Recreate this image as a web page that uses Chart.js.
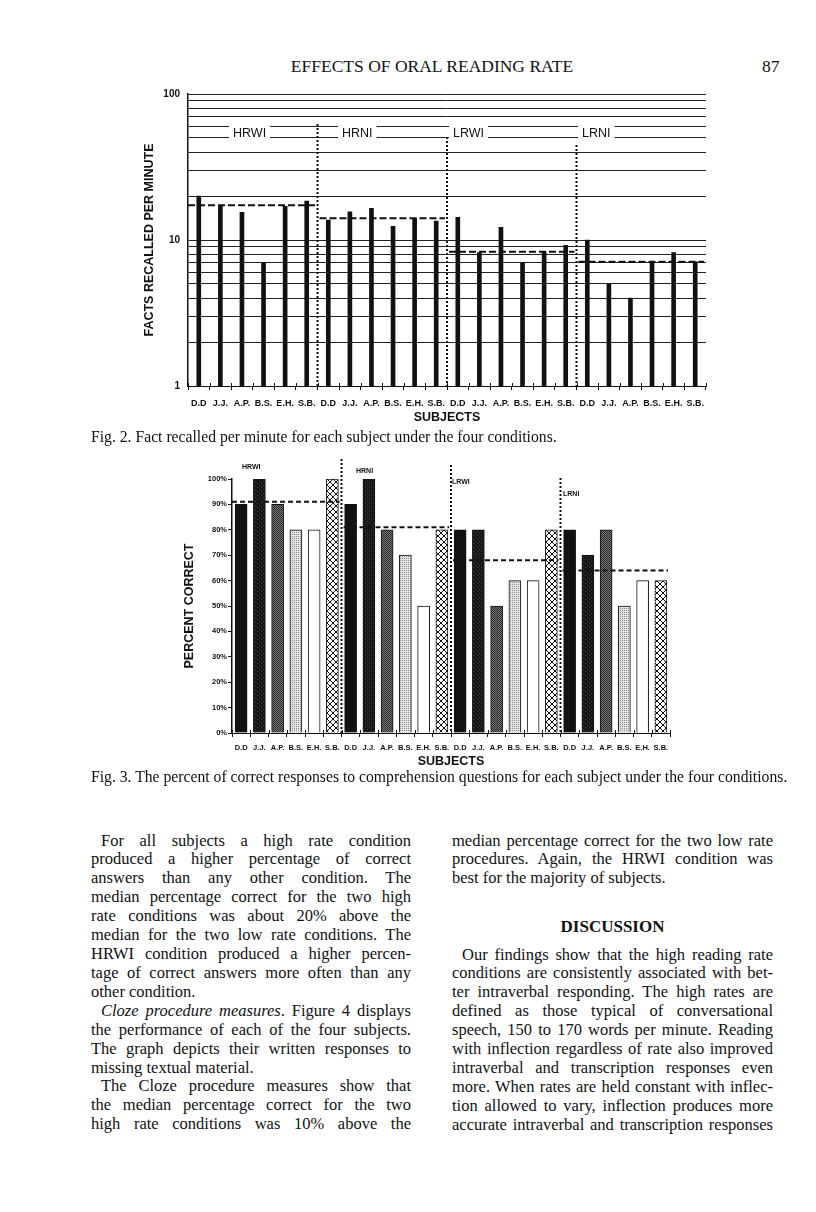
<!DOCTYPE html>
<html lang="en">
<head>
  <meta charset="UTF-8">
  <title>Effects of Oral Reading Rate</title>
  <script src="https://cdn.jsdelivr.net/npm/chart.js"></script>
  <style>
    body {
      margin: 0;
      background: #fff;
      color: #111;
      font-family: 'Liberation Serif', 'Times New Roman', serif;
    }
    .page { position: relative; width: 816px; height: 1212px; overflow: hidden; }
    .abs { position: absolute; }
    .header { top: 55px; font-size: 17.5px; line-height: 22px; }
    .caption { left: 91px; font-size: 15.7px; line-height: 18px; white-space: nowrap; }
    .col { position: absolute; font-size: 16.5px; }
    .col div { height: 18.93px; line-height: 18.93px; text-align: justify; text-align-last: justify; }
    .col div.ind { text-indent: 10px; }
    .col div.last { text-align-last: left; }
    .heading { font-weight: bold; text-align: center; font-size: 17px; line-height: 19px; }
    canvas { position: absolute; }
  </style>
</head>
<body>
<div class="page">
  <div class="abs header" style="left:232px;width:400px;text-align:center;">EFFECTS OF ORAL READING RATE</div>
  <div class="abs header" style="left:762px;">87</div>

  <canvas id="fig2" width="620" height="350" style="left:100px;top:80px;"></canvas>
  <div class="abs caption" style="top:428px;">Fig. 2. Fact recalled per minute for each subject under the four conditions.</div>

  <canvas id="fig3" width="540" height="340" style="left:150px;top:440px;"></canvas>
  <div class="abs caption" style="top:768px;">Fig. 3. The percent of correct responses to comprehension questions for each subject under the four conditions.</div>

  <div class="col" style="left:91px;top:831.5px;width:320px;">
    <div class="ind">For all subjects a high rate condition</div>
    <div>produced a higher percentage of correct</div>
    <div>answers than any other condition. The</div>
    <div>median percentage correct for the two high</div>
    <div>rate conditions was about 20% above the</div>
    <div>median for the two low rate conditions. The</div>
    <div>HRWI condition produced a higher percen-</div>
    <div>tage of correct answers more often than any</div>
    <div class="last">other condition.</div>
    <div class="ind"><i>Cloze procedure measures</i>. Figure 4 displays</div>
    <div>the performance of each of the four subjects.</div>
    <div>The graph depicts their written responses to</div>
    <div class="last">missing textual material.</div>
    <div class="ind">The Cloze procedure measures show that</div>
    <div>the median percentage correct for the two</div>
    <div>high rate conditions was 10% above the</div>
  </div>

  <div class="col" style="left:452px;top:831.5px;width:321px;">
    <div>median percentage correct for the two low rate</div>
    <div>procedures. Again, the HRWI condition was</div>
    <div class="last">best for the majority of subjects.</div>
  </div>
  <div class="abs heading" style="left:452px;top:916.5px;width:321px;">DISCUSSION</div>
  <div class="col" style="left:452px;top:945.5px;width:321px;">
    <div class="ind">Our findings show that the high reading rate</div>
    <div>conditions are consistently associated with bet-</div>
    <div>ter intraverbal responding. The high rates are</div>
    <div>defined as those typical of conversational</div>
    <div>speech, 150 to 170 words per minute. Reading</div>
    <div>with inflection regardless of rate also improved</div>
    <div>intraverbal and transcription responses even</div>
    <div>more. When rates are held constant with inflec-</div>
    <div>tion allowed to vary, inflection produces more</div>
    <div>accurate intraverbal and transcription responses</div>
  </div>
</div>

<script>
  // subjects and conditions
  const subjects = ['D.D', 'J.J.', 'A.P.', 'B.S.', 'E.H.', 'S.B.'];
  const conditions = ['HRWI', 'HRNI', 'LRWI', 'LRNI'];

  // Fig. 2 - facts recalled per minute (log scale)
  const factsHRWI = [20, 17, 15.5, 7, 17, 18.5];
  const factsHRNI = [13.7, 15.6, 16.5, 12.4, 14.1, 13.5];
  const factsLRWI = [14.3, 8.2, 12.2, 7, 8.3, 9.2];
  const factsLRNI = [10, 5, 4, 7, 8.2, 7.1];
  const factsMedians = [17.3, 14.1, 8.3, 7.1];
  const factsGridValues = [1, 2, 3, 4, 5, 6, 7, 8, 9, 10, 20, 30, 40, 50, 60, 70, 80, 90, 100];
  const factsTickValues = [1, 10, 100];
  const factsTickLabels = ['1', '10', '100'];

  // Fig. 3 - percent correct
  const pctHRWI = [90, 100, 90, 80, 80, 100];
  const pctHRNI = [90, 100, 80, 70, 50, 80];
  const pctLRWI = [80, 80, 50, 60, 60, 80];
  const pctLRNI = [80, 70, 80, 50, 60, 60];
  const pctMedians = [91, 81, 68, 64];
  const pctTickLabels = ['0%', '10%', '20%', '30%', '40%', '50%', '60%', '70%', '80%', '90%', '100%'];

  const allLabels = conditions.flatMap(() => subjects);

  Chart.defaults.font.family = "'Liberation Sans', Arial, sans-serif";
  Chart.defaults.color = '#111';

  // dashed medians, dotted separators, condition labels, small up-ticks
  const conditionMarks = {
    id: 'conditionMarks',
    afterDatasetsDraw(chart, args, o) {
      const { ctx, chartArea } = chart;
      const x = chart.scales.x, y = chart.scales.y;
      const n = subjects.length;
      const half = (x.getPixelForValue(1) - x.getPixelForValue(0)) / 2;
      ctx.save();
      ctx.strokeStyle = '#111';

      ctx.lineWidth = 1;
      ctx.beginPath();
      for (let i = 0; i <= allLabels.length; i++) {
        const bx = Math.round(x.getPixelForValue(i) - half) + 0.5;
        ctx.moveTo(bx, chartArea.bottom - o.tickUp);
        ctx.lineTo(bx, chartArea.bottom);
      }
      ctx.stroke();

      ctx.lineWidth = o.dotWidth;
      ctx.setLineDash(o.dot);
      for (let k = 1; k < conditions.length; k++) {
        const sx = x.getPixelForValue(k * n) - half;
        ctx.beginPath();
        ctx.moveTo(sx, o.sepTop[k - 1]);
        ctx.lineTo(sx, chartArea.bottom);
        ctx.stroke();
      }

      ctx.lineWidth = o.dashWidth;
      ctx.setLineDash(o.dash);
      o.medians.forEach((m, k) => {
        const x0 = k === 0 ? chartArea.left : x.getPixelForValue(k * n) - half + o.gap;
        const x1 = x.getPixelForValue(k * n + n - 1) + half - o.gap;
        const yy = y.getPixelForValue(m);
        ctx.beginPath();
        ctx.moveTo(x0, yy);
        ctx.lineTo(x1, yy);
        ctx.stroke();
      });

      ctx.setLineDash([]);
      ctx.font = o.font;
      ctx.textBaseline = o.baseline;
      conditions.forEach((c, k) => {
        const [lx, ly] = o.labelPos[k];
        if (o.clear) {
          const w = ctx.measureText(c).width;
          ctx.fillStyle = '#fff';
          ctx.fillRect(lx - 4, ly - 11, w + 8, 13);
        }
        ctx.fillStyle = '#111';
        ctx.fillText(c, lx, ly);
      });
      ctx.restore();
    }
  };

  // Fig. 2
  new Chart(document.getElementById('fig2').getContext('2d'), {
    type: 'bar',
    data: {
      labels: allLabels,
      datasets: [{
        data: [...factsHRWI, ...factsHRNI, ...factsLRWI, ...factsLRNI],
        backgroundColor: '#111',
        barThickness: 4
      }]
    },
    options: {
      responsive: false,
      animation: false,
      devicePixelRatio: 1,
      layout: { padding: { top: 13, right: 14, bottom: 0, left: 0 } },
      plugins: {
        legend: { display: false },
        tooltip: { enabled: false },
        conditionMarks: {
          medians: factsMedians,
          tickUp: 3,
          dot: [2, 2], dotWidth: 2,
          dash: [7, 3], dashWidth: 2, gap: 2,
          sepTop: [44, 57, 65],
          labelPos: [[133, 57], [242, 57], [353, 57], [482, 57]],
          font: "12.5px 'Liberation Sans', Arial, sans-serif",
          baseline: 'alphabetic',
          clear: true
        }
      },
      scales: {
        x: {
          grid: { drawOnChartArea: false, drawTicks: true, tickLength: 4, color: '#111', offset: true },
          border: { color: '#111', width: 1 },
          ticks: { font: { size: 9, weight: 'bold' }, padding: 8, maxRotation: 0, autoSkip: false },
          title: {
            display: true, text: 'SUBJECTS',
            font: { size: 12.5, weight: 'bold' },
            padding: { top: 0, bottom: 4.8 }
          },
          afterFit: s => { s.height = 44; }
        },
        y: {
          type: 'logarithmic',
          min: 1, max: 100,
          grid: { color: '#222', lineWidth: 1, drawTicks: false },
          border: { color: '#111', width: 1.5 },
          afterBuildTicks: s => { s.ticks = factsGridValues.map(v => ({ value: v })); },
          ticks: {
            font: { size: 10, weight: 'bold' },
            padding: 8,
            autoSkip: false,
            callback: v => {
              const i = factsTickValues.indexOf(v);
              return i >= 0 ? factsTickLabels[i] : '';
            }
          },
          title: {
            display: true, text: 'FACTS RECALLED PER MINUTE',
            font: { size: 12.5, weight: 'bold' },
            padding: { top: 42.5, bottom: 0 }
          },
          afterFit: s => { s.width = 88; }
        }
      }
    },
    plugins: [conditionMarks]
  });

  // Fig. 3 fill patterns
  function makePattern(size, draw) {
    const c = document.createElement('canvas');
    c.width = size; c.height = size;
    const g = c.getContext('2d');
    draw(g, size);
    return g.createPattern(c, 'repeat');
  }
  const fillJJ = makePattern(4, (g) => {
    g.fillStyle = '#161616'; g.fillRect(0, 0, 4, 4);
    g.fillStyle = '#444'; g.fillRect(1, 1, 1, 1); g.fillRect(3, 3, 1, 1);
  });
  const fillAP = makePattern(2, (g) => {
    g.fillStyle = '#777'; g.fillRect(0, 0, 2, 2);
    g.fillStyle = '#2a2a2a'; g.fillRect(0, 0, 1, 1); g.fillRect(1, 1, 1, 1);
  });
  const fillBS = makePattern(2, (g) => {
    g.fillStyle = '#e4e4e4'; g.fillRect(0, 0, 2, 2);
    g.fillStyle = '#8c8c8c'; g.fillRect(0, 0, 1, 1);
  });
  const fillSB = makePattern(6, (g) => {
    g.fillStyle = '#fff'; g.fillRect(0, 0, 6, 6);
    g.strokeStyle = '#111'; g.lineWidth = 1;
    g.beginPath();
    g.moveTo(0, 0); g.lineTo(6, 6);
    g.moveTo(6, 0); g.lineTo(0, 6);
    g.stroke();
  });
  const subjectFills = ['#111', fillJJ, fillAP, fillBS, '#fff', fillSB];

  // Fig. 3
  new Chart(document.getElementById('fig3').getContext('2d'), {
    type: 'bar',
    data: {
      labels: allLabels,
      datasets: [{
        data: [...pctHRWI, ...pctHRNI, ...pctLRWI, ...pctLRNI],
        backgroundColor: allLabels.map((s, i) => subjectFills[i % subjects.length]),
        borderColor: '#111',
        borderWidth: 1,
        barThickness: 12
      }]
    },
    options: {
      responsive: false,
      animation: false,
      devicePixelRatio: 1,
      layout: { padding: { top: 39, right: 20, bottom: 0, left: 0 } },
      plugins: {
        legend: { display: false },
        tooltip: { enabled: false },
        conditionMarks: {
          medians: pctMedians,
          tickUp: 3,
          dot: [2, 2], dotWidth: 2,
          dash: [5, 3], dashWidth: 2, gap: 2,
          sepTop: [19, 25, 38],
          labelPos: [[92, 27], [206, 31], [302, 42], [413, 54]],
          font: "bold 7px 'Liberation Sans', Arial, sans-serif",
          baseline: 'middle',
          clear: false
        }
      },
      scales: {
        x: {
          grid: { drawOnChartArea: false, drawTicks: true, tickLength: 4, color: '#111', offset: true },
          border: { color: '#111', width: 1 },
          ticks: { font: { size: 7.5, weight: 'bold' }, padding: 6, maxRotation: 0, autoSkip: false },
          title: {
            display: true, text: 'SUBJECTS',
            font: { size: 12.5, weight: 'bold' },
            padding: { top: 0, bottom: 10.5 }
          },
          afterFit: s => { s.height = 47; }
        },
        y: {
          min: 0, max: 100,
          grid: { drawOnChartArea: false, drawTicks: true, tickLength: 4, color: '#111' },
          border: { color: '#111', width: 1.5 },
          ticks: {
            stepSize: 10,
            font: { size: 7.5, weight: 'bold' },
            padding: 1,
            callback: (v, i) => pctTickLabels[i]
          },
          title: {
            display: true, text: 'PERCENT CORRECT',
            font: { size: 12.5, weight: 'bold' },
            padding: { top: 32.5, bottom: 0 }
          },
          afterFit: s => { s.width = 82; }
        }
      }
    },
    plugins: [conditionMarks]
  });
</script>
</body>
</html>
